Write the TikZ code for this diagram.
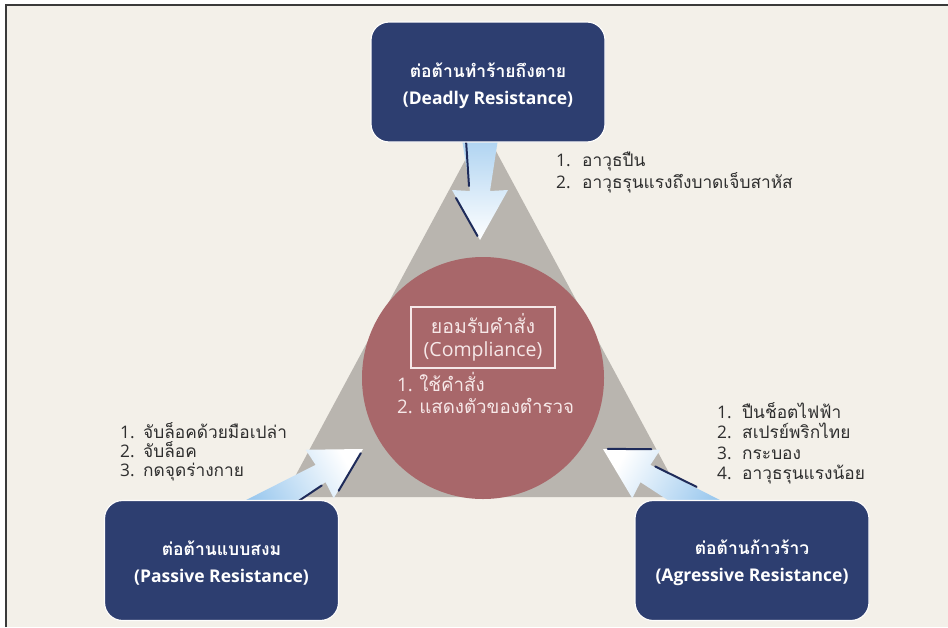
\documentclass[tikz,border=0pt]{standalone}
\usepackage{fontspec}
\setmainfont{Open Sans}
\newfontfamily\thai[Script=Thai]{Loma}
\definecolor{bgc}{HTML}{F3F0E9}
\definecolor{navy}{HTML}{2D3E70}
\definecolor{tri}{HTML}{B9B5AF}
\definecolor{circ}{HTML}{A8676A}
\definecolor{arrblue}{HTML}{8FC2EC}
\definecolor{shadowc}{HTML}{1E2B5A}
\definecolor{txt}{HTML}{2E2E2E}
\definecolor{ltxt}{HTML}{F6E8E8}
\definecolor{framec}{HTML}{3A3A3A}
\tikzset{
  rbox/.style={rectangle, rounded corners=18pt, fill=navy, draw=white!80!bgc, line width=1.2pt,
    minimum width=234pt, minimum height=120pt},
  boxlabel/.style={text=white, align=center, inner sep=0pt,
    font=\fontsize{17.5}{27}\selectfont\bfseries},
  listnum/.style={anchor=base west, inner sep=0pt, text=txt, font=\fontsize{17.3}{20}\selectfont},
  listtxt/.style={anchor=base west, inner sep=0pt, text=txt, font=\fontsize{17.3}{20}\selectfont\thai},
  inlist/.style={anchor=base west, inner sep=0pt, text=ltxt, font=\fontsize{18.7}{22}\selectfont},
  shadowline/.style={draw=shadowc, line width=2pt, line cap=round},
  framel/.style={draw=framec, line width=2pt}
}
% #1 tip, #2 rotation, #3 shading angle, #4 tail half width
\newcommand{\bluearrow}[4]{%
  \begin{scope}[shift={#1}, rotate=#2, x=1pt, y=1pt]
    \shade[top color=arrblue, bottom color=white, shading angle=#3]
      (0,0) -- (-50,28) -- (-49,10) -- (-140,#4) -- (-140,-#4) -- (-49,-10) -- (-50,-28) -- cycle;
    \draw[shadowline] (-4,-2.5) -- (-42,-24);
    \draw[shadowline] (-54,-11) -- (-100,-14);
  \end{scope}}
\begin{document}
\begin{tikzpicture}[x=1pt,y=-1pt]
\useasboundingbox (0,0) rectangle (948,627);
\fill[white] (0,0) rectangle (948,627);
\fill[bgc] (6,5) rectangle (948,627);
\draw[framel] (6,627) -- (6,5) -- (948,5);

% triangle and circle
\fill[tri] (483,127) -- (284,497) -- (682,497) -- cycle;
\node[circle, fill=circ, minimum size=242pt, inner sep=0pt] (core) at (483,378) {};

% arrows
\bluearrow{(480,240)}{-90}{0}{24}
\begin{scope}
  \clip (0,0) rectangle (948,501);
  \bluearrow{(363,449)}{30}{120}{15}
  \bluearrow{(603,449)}{150}{240}{15}
\end{scope}

% boxes
\node[rbox] (deadly) at (488,82) {};
\node[boxlabel] (deadlyl) at (488,86) {{\thai ต่อต้านทำร้ายถึงตาย}\\(Deadly Resistance)};
\node[rbox] (passive) at (221.5,560.5) {};
\node[boxlabel] (passivel) at (221.5,563) {{\thai ต่อต้านแบบสงม}\\(Passive Resistance)};
\node[rbox] (aggr) at (752,560.5) {};
\node[boxlabel] (aggrl) at (752,563) {{\thai ต่อต้านก้าวร้าว}\\(Agressive Resistance)};

% compliance
\node[draw=ltxt, line width=1.5pt, minimum width=144pt, minimum height=61pt, text=ltxt,
      align=center, font=\fontsize{19.5}{23}\selectfont, inner sep=2pt] (comp) at (483,337.5)
      {{\thai ยอมรับคำสั่ง}\\(Compliance)};
\node[inlist] (c1) at (397,391) {1. {\thai ใช้คำสั่ง}};
\node[inlist] (c2) at (397,413) {2. {\thai แสดงตัวของตำรวจ}};

% top list
\node[listnum] (t1n) at (556,166) {1.};
\node[listtxt] (t1) at (582,166) {อาวุธปืน};
\node[listnum] (t2n) at (556,188) {2.};
\node[listtxt] (t2) at (582,188) {อาวุธรุนแรงถึงบาดเจ็บสาหัส};

% left list
\node[listnum] (l1n) at (120,438) {1.};
\node[listtxt] (l1) at (143,438) {จับล็อคด้วยมือเปล่า};
\node[listnum] (l2n) at (120,457) {2.};
\node[listtxt] (l2) at (143,457) {จับล็อค};
\node[listnum] (l3n) at (120,476) {3.};
\node[listtxt] (l3) at (143,476) {กดจุดร่างกาย};

% right list
\node[listnum] (r1n) at (717,418) {1.};
\node[listtxt] (r1) at (742,418) {ปืนช็อตไฟฟ้า};
\node[listnum] (r2n) at (717,438.5) {2.};
\node[listtxt] (r2) at (742,438.5) {สเปรย์พริกไทย};
\node[listnum] (r3n) at (717,459) {3.};
\node[listtxt] (r3) at (742,459) {กระบอง};
\node[listnum] (r4n) at (717,479.5) {4.};
\node[listtxt] (r4) at (742,479.5) {อาวุธรุนแรงน้อย};
\end{tikzpicture}
\end{document}
